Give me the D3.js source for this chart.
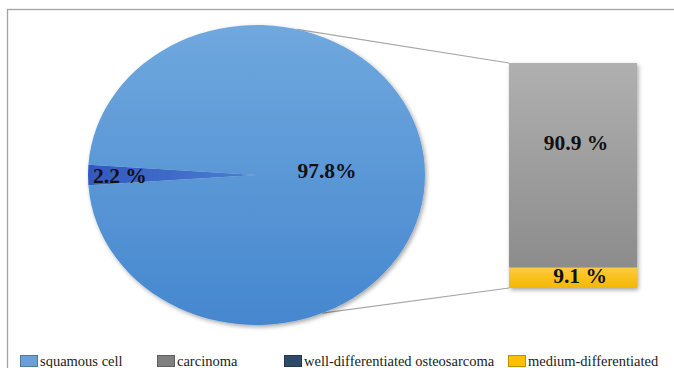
<!DOCTYPE html>
<html>
<head>
<meta charset="utf-8">
<script src="https://cdn.jsdelivr.net/npm/d3@7"></script>
<style>
  html, body { margin: 0; padding: 0; background: #fff; }
  svg { display: block; }
</style>
</head>
<body>
<script>
// Pie: share of each histological type
const pieLabels = ["squamous cell", "well-differentiated osteosarcoma"];
const pieValues = [97.8, 2.2];
// Bar: breakdown of the secondary group
const barLabels = ["medium-differentiated", "carcinoma"];
const barValues = [9.1, 90.9];
// Legend entries
const legendLabels = ["squamous cell", "carcinoma", "well-differentiated osteosarcoma", "medium-differentiated"];
const legendColors = ["#6a9fd8", "#7f7f7f", "#2e4a68", "#ffc000"];

const W = 674, H = 368;
const svg = d3.select("body").append("svg").attr("width", W).attr("height", H);
const defs = svg.append("defs");

function vGrad(id, c0, c1) {
  const g = defs.append("linearGradient").attr("id", id)
    .attr("x1", 0).attr("y1", 0).attr("x2", 0).attr("y2", 1);
  g.append("stop").attr("offset", "0%").attr("stop-color", c0);
  g.append("stop").attr("offset", "100%").attr("stop-color", c1);
}
vGrad("gBlue", "#70a8de", "#4587cf");
vGrad("gGray", "#b0b0b0", "#8c8c8c");
vGrad("gYellow", "#ffcb40", "#f3b700");
const wg = defs.append("linearGradient").attr("id", "gWedge")
  .attr("x1", 0).attr("y1", 0).attr("x2", 1).attr("y2", 0);
wg.append("stop").attr("offset", "0%").attr("stop-color", "#3358c0");
wg.append("stop").attr("offset", "100%").attr("stop-color", "#4a7fd0");

const shadow = defs.append("filter").attr("id", "shadow")
  .attr("x", "-10%").attr("y", "-10%").attr("width", "125%").attr("height", "125%");
shadow.append("feDropShadow").attr("dx", 1.5).attr("dy", 2).attr("stdDeviation", 2)
  .attr("flood-color", "#000").attr("flood-opacity", 0.35);

// Chart frame
svg.append("rect").attr("x", 7.5).attr("y", 9.5).attr("width", W).attr("height", H)
  .attr("fill", "none").attr("stroke", "#a3a3a3").attr("stroke-width", 1.3);

// Pie geometry (slightly elliptical)
const cx = 256.5, cy = 175, rx = 168.5, ry = 150;

// Bar geometry
const barX = 509, barW = 128;
const yBar = d3.scaleLinear().domain([0, 100]).range([288, 63]);

// Connector lines from pie edge to bar corners
function ellipsePoint(deg) {
  const a = deg * Math.PI / 180;
  return [cx + rx * Math.cos(a), cy + ry * Math.sin(a)];
}
const conn = [[ellipsePoint(-76), [barX, yBar(100)]], [ellipsePoint(67), [barX, yBar(0)]]];
svg.selectAll("line.conn").data(conn).join("line").attr("class", "conn")
  .attr("x1", d => d[0][0]).attr("y1", d => d[0][1])
  .attr("x2", d => d[1][0]).attr("y2", d => d[1][1])
  .attr("stroke", "#a6a6a6").attr("stroke-width", 1.2);

// Pie, small slice centred on the left
const smallAngle = pieValues[1] / d3.sum(pieValues) * 2 * Math.PI;
const start = 1.5 * Math.PI - smallAngle / 2;
const pie = d3.pie().sort(null).startAngle(start).endAngle(start + 2 * Math.PI);
const arcs = pie([pieValues[1], pieValues[0]]);
const arc = d3.arc().innerRadius(0).outerRadius(ry);
const pg = svg.append("g").attr("transform", `translate(${cx},${cy}) scale(${rx / ry},1)`)
  .attr("filter", "url(#shadow)");
pg.selectAll("path").data(arcs).join("path")
  .attr("d", arc)
  .attr("fill", (d, i) => i === 0 ? "url(#gWedge)" : "url(#gBlue)");

// Stacked bar
let acc = 0;
const segs = barValues.map(v => { const s = { y0: acc, y1: acc + v, v }; acc += v; return s; });
const bg = svg.append("g").attr("filter", "url(#shadow)");
bg.selectAll("rect").data(segs).join("rect")
  .attr("x", barX).attr("width", barW)
  .attr("y", d => yBar(d.y1)).attr("height", d => yBar(d.y0) - yBar(d.y1))
  .attr("fill", (d, i) => i === 0 ? "url(#gYellow)" : "url(#gGray)");

// Value labels
const lblFont = "'Liberation Serif', 'Times New Roman', serif";
const labels = [
  { t: pieValues[0].toFixed(1) + "%", x: 327, y: 178, a: "middle" },
  { t: pieValues[1].toFixed(1) + " %", x: 93, y: 183, a: "start" },
  { t: barValues[1].toFixed(1) + " %", x: barX + barW / 2 + 3, y: 150, a: "middle" },
  { t: barValues[0].toFixed(1) + " %", x: barX + barW / 2 + 7, y: 283, a: "middle" }
];
svg.selectAll("text.val").data(labels).join("text").attr("class", "val")
  .attr("x", d => d.x).attr("y", d => d.y).attr("text-anchor", d => d.a)
  .attr("font-family", lblFont).attr("font-weight", "bold").attr("font-size", 21.5)
  .attr("fill", "#111").text(d => d.t);

// Legend
const legX = [20, 157, 284, 508];
const lg = svg.append("g");
legendLabels.forEach((l, i) => {
  lg.append("rect").attr("x", legX[i] + 0.5).attr("y", 355.5).attr("width", 17).attr("height", 11)
    .attr("fill", legendColors[i]).attr("stroke", d3.color(legendColors[i]).darker(0.8)).attr("stroke-width", 1);
  lg.append("text").attr("x", legX[i] + 20).attr("y", 366)
    .attr("font-family", lblFont).attr("font-size", 14.5).attr("fill", "#222").text(l);
});
</script>
</body>
</html>
